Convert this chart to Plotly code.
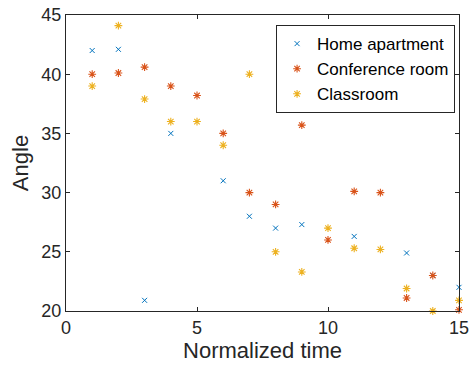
import plotly.graph_objects as go

home_x = [1, 2, 3, 4, 6, 7, 8, 9, 11, 13, 14, 15]
home_y = [42.0, 42.1, 20.9, 35.0, 31.0, 28.0, 27.0, 27.3, 26.3, 24.9, 23.0, 22.0]

conf_x = list(range(1, 16))
conf_y = [40.0, 40.1, 40.6, 39.0, 38.2, 35.0, 30.0, 29.0, 35.7, 26.0, 30.1, 30.0, 21.1, 23.0, 20.1]

class_x = list(range(1, 16))
class_y = [39.0, 44.1, 37.9, 36.0, 36.0, 34.0, 40.0, 25.0, 23.3, 27.0, 25.3, 25.2, 21.9, 20.0, 20.9]

x_ticks = [0, 5, 10, 15]
y_ticks = [20, 25, 30, 35, 40, 45]

FONT = "Liberation Sans, Arial"
INK = "#262626"

fig = go.Figure()
fig.add_trace(go.Scatter(x=home_x, y=home_y, mode="markers", name="Home apartment",
                         cliponaxis=False,
                         marker=dict(symbol="x-thin-open", size=5, color="#0072BD",
                                     line=dict(width=1, color="#0072BD"))))
fig.add_trace(go.Scatter(x=conf_x, y=conf_y, mode="markers", name="Conference room",
                         cliponaxis=False,
                         marker=dict(symbol="asterisk-open", size=6.5, color="#D95319",
                                     line=dict(width=1.1, color="#D95319"))))
fig.add_trace(go.Scatter(x=class_x, y=class_y, mode="markers", name="Classroom",
                         cliponaxis=False,
                         marker=dict(symbol="asterisk-open", size=6.5, color="#EDB120",
                                     line=dict(width=1.1, color="#EDB120"))))

axis_common = dict(showline=True, linecolor=INK, linewidth=1, mirror="ticks",
                   ticks="inside", ticklen=4, tickcolor=INK, tickwidth=1,
                   showgrid=False, zeroline=False, automargin=False,
                   tickfont=dict(family=FONT, size=18, color=INK))

fig.update_xaxes(range=[0, 15], tickvals=x_ticks,
                 title=dict(text="Normalized time", font=dict(family=FONT, size=22, color=INK), standoff=2),
                 **axis_common)
fig.update_yaxes(range=[20, 45], tickvals=y_ticks,
                 title=dict(text="Angle", font=dict(family=FONT, size=22, color=INK), standoff=6),
                 **axis_common)

fig.update_layout(
    width=472, height=368,
    margin=dict(l=66, r=13, t=15, b=57),
    paper_bgcolor="white", plot_bgcolor="white",
    legend=dict(x=0.99, y=0.966, xanchor="right", yanchor="top",
                bgcolor="white", bordercolor=INK, borderwidth=1,
                font=dict(family=FONT, size=17, color="black"),
                itemsizing="trace", tracegroupgap=0),
    showlegend=True,
)

fig.write_html("out.html", config={"displayModeBar": False},
               post_script="document.body.style.margin='0';document.body.style.overflow='hidden';")
